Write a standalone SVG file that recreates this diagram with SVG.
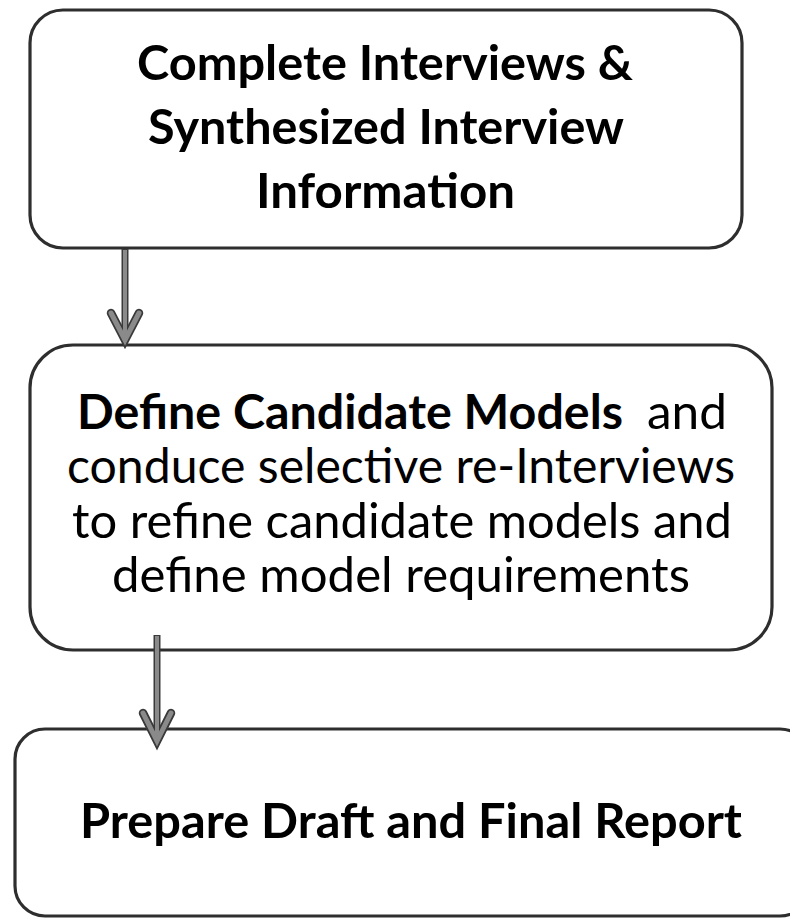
<svg xmlns="http://www.w3.org/2000/svg" width="790" height="919" viewBox="0 0 790 919">
  <style>
    .box { fill: #ffffff; stroke: #2e2e2e; stroke-width: 3.2; }
    .t { font-family: Lato, "Open Sans", "Liberation Sans", sans-serif; font-size: 47.5px; fill: #000; }
    .b { font-weight: bold; }
    .shaft { fill: none; stroke: #3a3a3a; stroke-width: 7; stroke-linecap: butt; }
    .shaftIn { fill: none; stroke: #8a8a8a; stroke-width: 4; }
    .head { fill: none; stroke: #3a3a3a; stroke-width: 8.5; stroke-linecap: round; stroke-linejoin: miter; }
    .headIn { fill: none; stroke: #8a8a8a; stroke-width: 5; stroke-linecap: round; stroke-linejoin: miter; }
  </style>
  <rect width="790" height="919" fill="#ffffff"/>

  <g id="node1">
    <rect class="box" x="30" y="10" width="712" height="238" rx="33" ry="33"/>
    <text class="t b" x="137" y="80" textLength="496" lengthAdjust="spacingAndGlyphs">Complete Interviews &amp;</text>
    <text class="t b" x="148" y="144" textLength="476" lengthAdjust="spacingAndGlyphs">Synthesized Interview</text>
    <text class="t b" x="256" y="208" textLength="259" lengthAdjust="spacingAndGlyphs">Information</text>
  </g>

  <g id="node2">
    <rect class="box" x="30" y="345" width="742" height="305" rx="43" ry="43"/>
    <text class="t b" x="77" y="429" textLength="546" lengthAdjust="spacingAndGlyphs">Define Candidate Models</text>
    <text class="t" x="647" y="429" textLength="80" lengthAdjust="spacingAndGlyphs">and</text>
    <text class="t" x="67" y="483" textLength="668" lengthAdjust="spacingAndGlyphs">conduce selective re-Interviews</text>
    <text class="t" x="72" y="538" textLength="660" lengthAdjust="spacingAndGlyphs">to refine candidate models and</text>
    <text class="t" x="112" y="592" textLength="578" lengthAdjust="spacingAndGlyphs">define model requirements</text>
  </g>

  <g id="node3">
    <rect class="box" x="15" y="729" width="795" height="187" rx="30" ry="30"/>
    <text class="t b" x="80" y="838" textLength="662" lengthAdjust="spacingAndGlyphs">Prepare Draft and Final Report</text>
  </g>

  <g id="connectors">
    <g id="edge1">
      <line class="shaft" x1="125" y1="249" x2="125" y2="338"/>
      <polyline class="head" points="111,313 125,340 139,313"/>
      <line class="shaftIn" x1="125" y1="250" x2="125" y2="336"/>
      <polyline class="headIn" points="111,313 125,340 139,313"/>
    </g>
    <g id="edge2">
      <line class="shaft" x1="157" y1="635" x2="157" y2="738"/>
      <polyline class="head" points="143,713 157,741 171,713"/>
      <line class="shaftIn" x1="157" y1="636" x2="157" y2="736"/>
      <polyline class="headIn" points="143,713 157,741 171,713"/>
    </g>
  </g>
</svg>
